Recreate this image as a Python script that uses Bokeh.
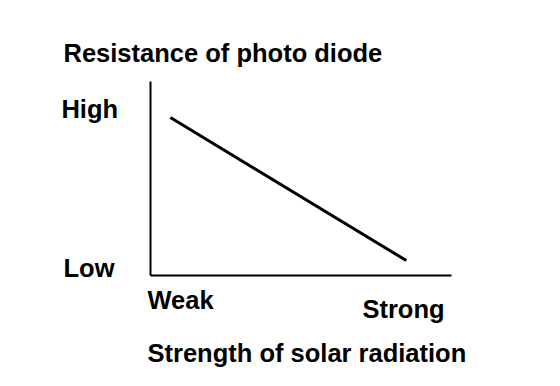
from bokeh.plotting import figure
from bokeh.models import Range1d, ColumnDataSource
from bokeh.core.properties import value
from bokeh.embed import file_html
from bokeh.resources import INLINE

# data
strength = [0.066, 0.850]          # strength of solar radiation (0 = weak, 1 = strong)
resistance = [0.814, 0.077]        # resistance of photo diode (0 = low, 1 = high)
x_tick_labels = ["Weak", "Strong"]
y_tick_labels = ["Low", "High"]
y_title = "Resistance of photo diode"
x_title = "Strength of solar radiation"

FONT = "Liberation Sans"
SIZE = "25.5px"

W, H = 552, 378
# axis box in pixels: x 150..451, y 81..275 (top..bottom)
x0, x1 = 150, 451
ytop, ybot = 81, 275
sx = x1 - x0
sy = ybot - ytop

p = figure(width=W, height=H, output_backend="svg", toolbar_location=None,
           x_range=Range1d(-x0 / sx, (W - x0) / sx),
           y_range=Range1d((ybot - H) / sy, ybot / sy),
           min_border=0, x_axis_type=None, y_axis_type=None)
p.outline_line_color = None
p.grid.visible = False
p.background_fill_color = "white"
p.border_fill_color = "white"

# axes
p.line([0, 0], [0, 1], line_width=2, line_color="black")
p.line([0, 1], [0, 0], line_width=2, line_color="black")

# data line
p.line(strength, resistance, line_width=3, line_color="black")

# label layout (data coordinates)
layout = [
    (y_title, -0.289, 1.145),
    (y_tick_labels[1], -0.296, 0.860),
    (y_tick_labels[0], -0.289, 0.040),
    (x_tick_labels[0], -0.010, -0.128),
    (x_tick_labels[1], 0.704, -0.173),
    (x_title, -0.010, -0.398),
]
src = ColumnDataSource(dict(
    text=[t for t, _, _ in layout],
    x=[lx for _, lx, _ in layout],
    y=[ly for _, _, ly in layout],
))
p.text(x="x", y="y", text="text", source=src, text_font=value(FONT),
       text_font_size=value(SIZE), text_font_style="bold", text_color="black",
       text_align="left", text_baseline="alphabetic")

open("out.html", "w").write(file_html(p, INLINE))
